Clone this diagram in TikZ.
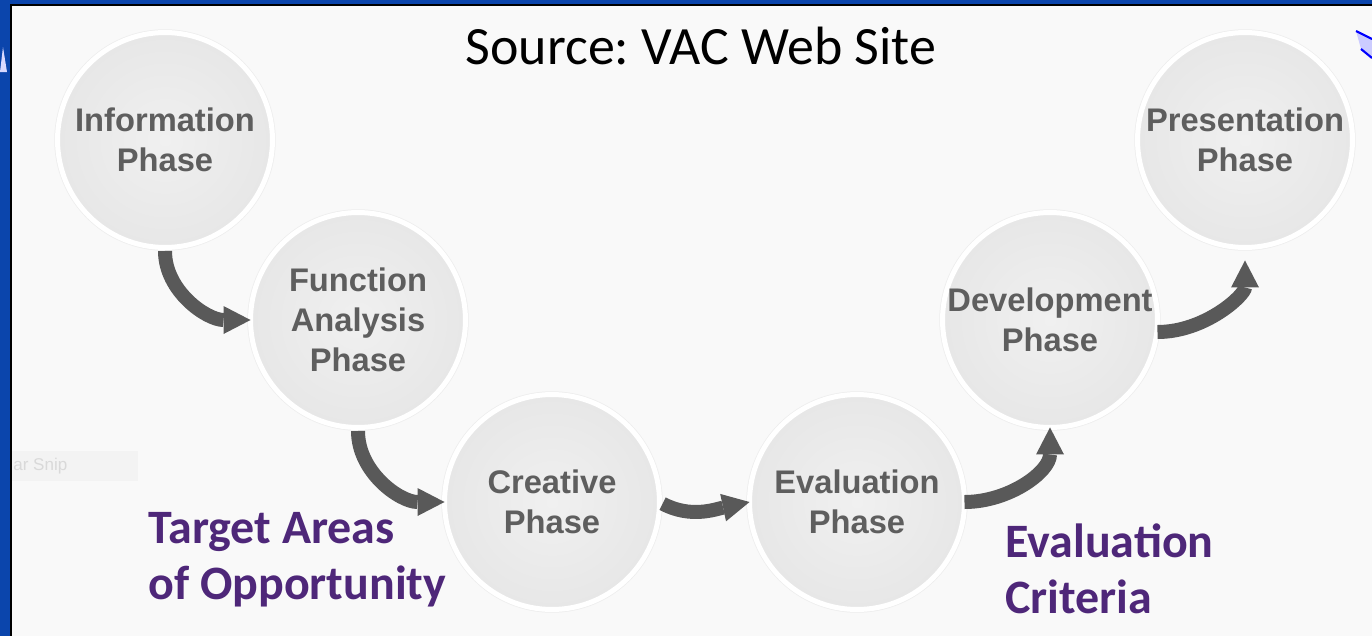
\documentclass[tikz,border=0pt]{standalone}
\usepackage{fontspec}
\setmainfont{Carlito}
\newfontfamily\phasefont{Liberation Sans}
\usetikzlibrary{arrows.meta}
\frenchspacing
\definecolor{vacblue}{HTML}{0B45AC}
\definecolor{panelgray}{HTML}{F9F9F9}
\definecolor{phasetext}{HTML}{5E5E5E}
\definecolor{arrowgray}{HTML}{595959}
\definecolor{notepurple}{HTML}{4E2779}
\definecolor{ballin}{HTML}{F0F0F0}
\definecolor{ballout}{HTML}{D6D6D6}
\definecolor{snipbox}{HTML}{F3F3F3}
\definecolor{sniptext}{HTML}{D9D9D9}
\pgfdeclareradialshading{phaseball}{\pgfpoint{0bp}{0bp}}{color(0bp)=(ballin); color(25bp)=(ballin!65!ballout); color(50bp)=(ballout)}
\tikzset{
  phase/.style={circle, minimum size=4.3cm, inner sep=0pt, outer sep=0pt,
    draw=white, line width=0.1cm, shading=phaseball, align=center,
    preaction={draw=black!7, line width=0.13cm},
    text=phasetext, font=\phasefont\bfseries\fontsize{18.6}{22.7}\selectfont},
  flow/.style={draw=arrowgray, line width=0.28cm,
    -{Triangle[width=0.56cm,length=0.54cm,line width=0pt]}},
  note/.style={text=notepurple, align=left, inner sep=0pt, anchor=north west,
    font=\bfseries\fontsize{27.3}{31.9}\selectfont}
}
\begin{document}
\begin{tikzpicture}[x=0.02cm,y=-0.02cm]
\useasboundingbox (0,0) rectangle (1372,636);
% frame
\fill[vacblue] (0,0) rectangle (1372,636);
\fill[black] (10,4) rectangle (1372,636);
\fill[panelgray] (12,6) rectangle (1372,636);
\fill[blue!15] (0,72) -- (3,47) -- (7,72) -- cycle;
\fill[blue!20] (1356,31) -- (1372,39) -- (1372,58) -- (1361,49) -- cycle;
\draw[blue, line width=1.2pt] (1356,31) -- (1372,39) (1361,49) -- (1372,58);
\fill[snipbox] (12,451) rectangle (138,481);
\node[anchor=west, inner sep=0pt, text=sniptext, font=\phasefont\fontsize{9.7}{11}\selectfont] (snip) at (13,466) {ar Snip};
% title
\node[font=\fontsize{30.7}{36}\selectfont] (title) at (701,46) {Source: VAC Web Site};
% phases
\node[phase] (info) at (165,140) {Information\\Phase};
\node[phase] (func) at (358,320) {Function\\Analysis\\Phase};
\node[phase] (creative) at (552,502) {Creative\\Phase};
\node[phase] (eval) at (857,502) {Evaluation\\Phase};
\node[phase] (dev) at (1050,320) {Development\\Phase};
\node[phase] (pres) at (1245,140) {Presentation\\Phase};
% arrows
\draw[flow, shorten <=2pt] (info.south) to[out=-90,in=180] (func.west);
\draw[flow, shorten <=2pt] (func.south) to[out=-90,in=180] (creative.west);
\draw[flow, shorten <=2pt] (creative.east) to[out=-28,in=192] (eval.west);
\draw[flow] (eval.east) to[out=0,in=-90] (dev.south);
\draw[flow, shorten >=0.26cm] ([yshift=-0.24cm]dev.east) to[out=0,in=-90] (pres.south);
% notes
\node[note] (target) at (148,512) {Target Areas\\of Opportunity};
\node[note] (criteria) at (1005,523) {Evaluation\\Criteria};
\end{tikzpicture}
\end{document}
